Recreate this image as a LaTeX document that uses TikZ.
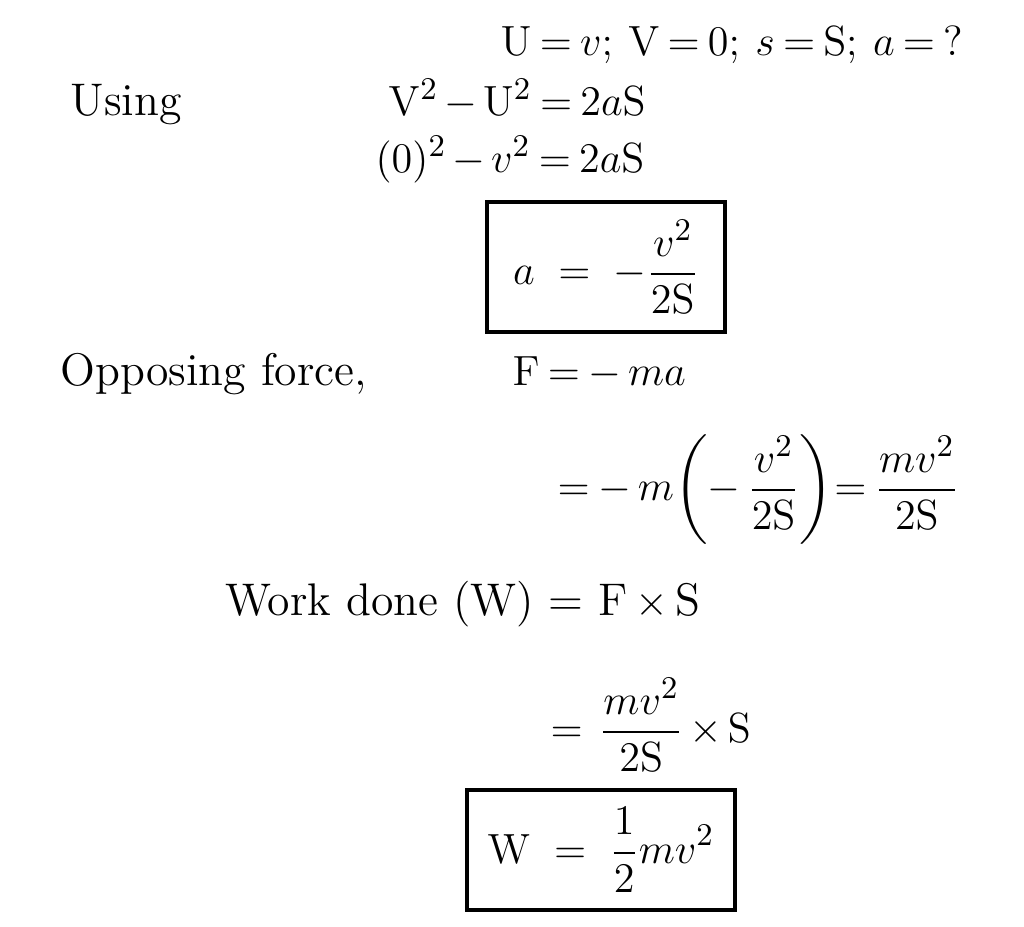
\documentclass[tikz,border=0pt]{standalone}
\usepackage{amsmath}
\usepackage{amsfonts}
\usepackage{tikz}

\newcommand{\tightmath}{\thickmuskip=3.5mu plus 1mu\medmuskip=2.5mu plus 1mu}

\tikzset{
	eqn/.style={anchor=base west, inner sep=0pt, font=\fontsize{13}{15}\selectfont\tightmath},
	eqc/.style={anchor=west, inner sep=0pt, font=\fontsize{13}{15}\selectfont\tightmath},
	framed/.style={draw=black, line width=1.1pt, inner sep=0pt, font=\fontsize{13}{15}\selectfont}
}

\begin{document}
\begin{tikzpicture}[x=0.01cm, y=-0.01cm]
	
	\useasboundingbox (0, 0) rectangle (1024, 926);
	
	\node[eqn] (given) at (500, 55)     {$\mathrm{U} = v;\;\mathrm{V} = 0;\;s = \mathrm{S};\;a = {?}$};
	\node[eqn] (using) at (70, 115)     {Using};
	\node[eqn] (eq1) at (388, 115)      {$\mathrm{V}^2 - \mathrm{U}^2 = 2a\mathrm{S}$};
	\node[eqn] (eq2) at (375, 172)      {$(0)^2 - v^2 = 2a\mathrm{S}$};
	\node[framed, minimum width=2.38cm, minimum height=1.30cm] (acc) at (606, 267)
		{$\displaystyle a \;=\; -\frac{v^2}{2\mathrm{S}}$};
	
	\node[eqn] (opp) at (60, 385)       {Opposing force,};
	\node[eqn] (force) at (512, 385)    {$\mathrm{F} = -\,ma$};
	\node[eqc] (force2) at (557, 490)   {$\displaystyle = -\,m\!\left(-\,\frac{v^2}{2\mathrm{S}}\right)\!= \frac{mv^2}{2\mathrm{S}}$};
	
	\node[eqn] (work) at (225, 615)     {Work done (W) = F\,$\times$\,S};
	\node[eqc] (work2) at (550, 725)    {$\displaystyle = \;\frac{mv^2}{2\mathrm{S}} \times \mathrm{S}$};
	\node[framed, minimum width=2.68cm, minimum height=1.20cm] (res) at (601, 850)
		{$\displaystyle \mathrm{W} \;=\; \frac{1}{2}mv^2$};
	
	\end{tikzpicture}
\end{document}
